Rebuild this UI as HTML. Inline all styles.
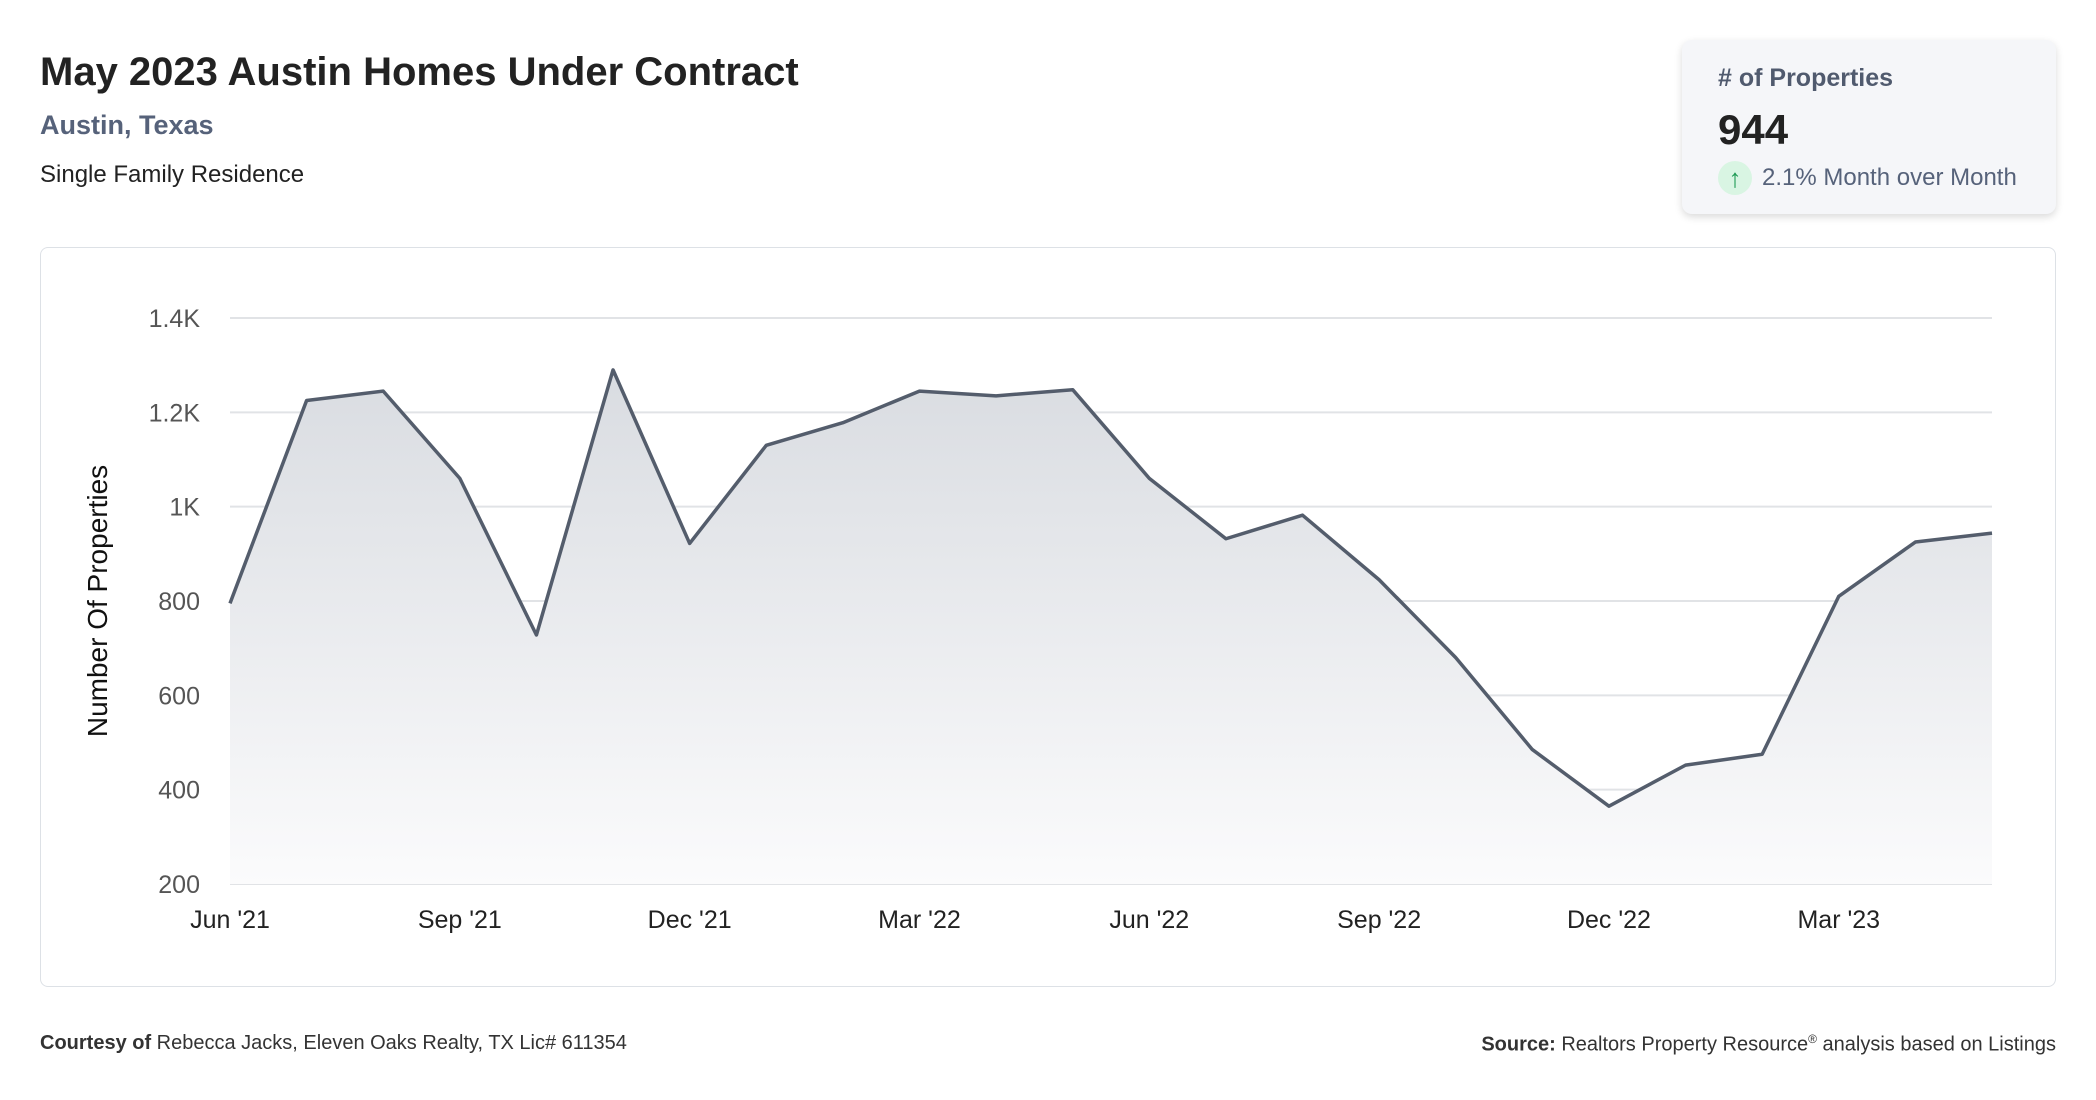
<!DOCTYPE html>
<html><head><meta charset="utf-8"><style>
body{margin:0;width:2096px;height:1100px;background:#fff;font-family:"Liberation Sans",sans-serif;position:relative;overflow:hidden}
.a{position:absolute;white-space:nowrap}
</style></head><body>
<div class="a" style="left:40px;top:50px;font-size:40px;font-weight:bold;color:#222">May 2023 Austin Homes Under Contract</div>
<div class="a" style="left:40px;top:110px;font-size:27px;font-weight:bold;color:#56627a">Austin, Texas</div>
<div class="a" style="left:40px;top:161px;font-size:24px;color:#222">Single Family Residence</div>
<div class="a" style="left:1682px;top:40px;width:374px;height:174px;background:#f5f6f9;border-radius:10px;box-shadow:0 3px 8px rgba(0,0,0,0.15)">
 <div class="a" style="left:36px;top:24px;font-size:25px;font-weight:bold;color:#505a6e"># of Properties</div>
 <div class="a" style="left:36px;top:66px;font-size:42px;font-weight:bold;color:#222">944</div>
 <div class="a" style="left:36px;top:121px;width:34px;height:34px;border-radius:17px;background:#d9f5e3;color:#1f9a55;font-size:26px;text-align:center;line-height:34px">↑</div>
 <div class="a" style="left:80px;top:124px;font-size:24px;color:#56627a">2.1% Month over Month</div>
</div>
<div class="a" style="left:40px;top:247px;width:2014px;height:738px;border:1px solid #dde1e6;border-radius:8px"></div>
<svg id="chart" class="a" style="left:0;top:0" width="2096" height="1100"></svg>
<div class="a" style="left:40px;top:1032px;font-size:20px;color:#333"><b>Courtesy of</b> Rebecca Jacks, Eleven Oaks Realty, TX Lic# 611354</div>
<div class="a" style="right:40px;top:1032px;font-size:20px;color:#333"><b>Source:</b> Realtors Property Resource<sup style="font-size:12px">®</sup> analysis based on Listings</div>
<script>
const categories=["Jun '21","Jul '21","Aug '21","Sep '21","Oct '21","Nov '21","Dec '21","Jan '22","Feb '22","Mar '22","Apr '22","May '22","Jun '22","Jul '22","Aug '22","Sep '22","Oct '22","Nov '22","Dec '22","Jan '23","Feb '23","Mar '23","Apr '23","May '23"];
const values=[795,1225,1245,1060,728,1290,922,1130,1178,1245,1235,1248,1060,932,982,845,680,485,365,452,475,810,925,944];
const yTicks=[200,400,600,800,1000,1200,1400];
const yTickLabels=["200","400","600","800","1K","1.2K","1.4K"];
const xTickIdx=[0,3,6,9,12,15,18,21];
const NS="http://www.w3.org/2000/svg",svg=document.getElementById('chart');
const X0=230,X1=1992,Y0=884,Y1=318,ymin=200,ymax=1400;
const xs=i=>X0+(X1-X0)*i/(categories.length-1);
const ys=v=>Y0-(Y0-Y1)*(v-ymin)/(ymax-ymin);
function mk(t,a){const e=document.createElementNS(NS,t);for(const k in a)e.setAttribute(k,a[k]);svg.appendChild(e);return e;}
const defs=mk('defs',{});defs.innerHTML='<linearGradient id="g" x1="0" y1="0" x2="0" y2="1"><stop offset="0" stop-color="#d9dce1"/><stop offset="1" stop-color="#fbfbfc"/></linearGradient>';
yTicks.forEach((v,i)=>{
 const l=mk('line',{x1:X0,x2:X1,y1:ys(v),y2:ys(v),stroke:'#e1e3e6','stroke-width':2});
 
 
 const t=mk('text',{x:200,y:ys(v)+9,'text-anchor':'end','font-size':25,fill:'#555','font-family':'Liberation Sans, sans-serif'});
 t.textContent=yTickLabels[i];
 
 
});
xTickIdx.forEach(i=>{
 const t=mk('text',{x:xs(i),y:928,'text-anchor':'middle','font-size':25,fill:'#222','font-family':'Liberation Sans, sans-serif'});
 t.textContent=categories[i];
 
 
});
let d=values.map((v,i)=>(i?'L':'M')+xs(i)+','+ys(v)).join('');
const area=mk('path',{d:d+'L'+xs(values.length-1)+','+Y0+'L'+X0+','+Y0+'Z',fill:'url(#g)'});


const line=mk('path',{d:d,fill:'none',stroke:'#545d6c','stroke-width':3.5,'stroke-linejoin':'round'});


const at=mk('text',{x:0,y:0,transform:'translate(107,601) rotate(-90)','text-anchor':'middle','font-size':28,fill:'#111','font-family':'Liberation Sans, sans-serif'});
at.textContent='Number Of Properties';


</script>
</body></html>
